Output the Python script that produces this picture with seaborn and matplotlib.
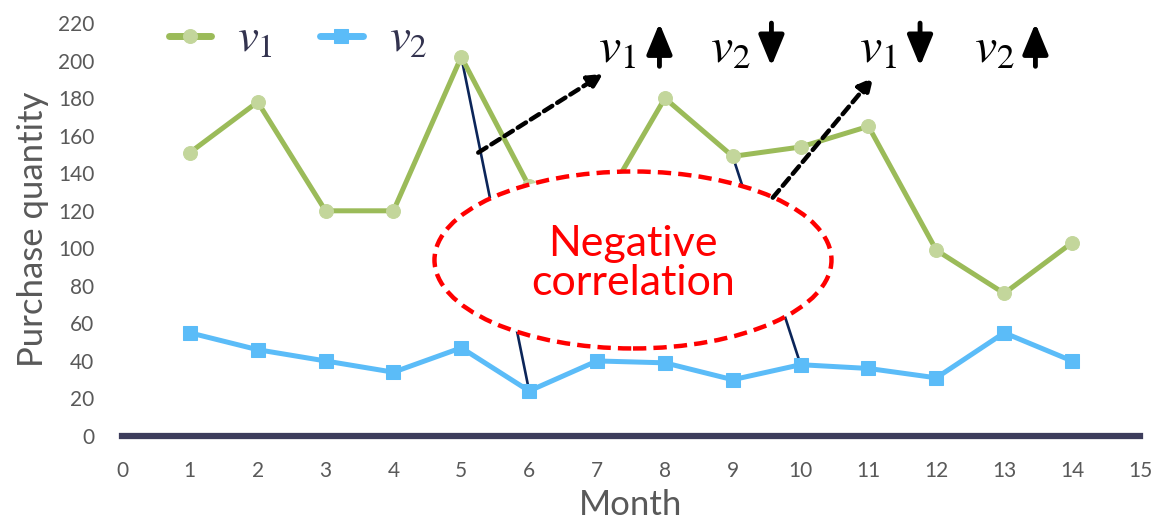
import matplotlib
matplotlib.use("Agg")
import matplotlib.pyplot as plt
from matplotlib.patches import Ellipse
import numpy as np
import pandas as pd
import seaborn as sns

# values
months = [1, 2, 3, 4, 5, 6, 7, 8, 9, 10, 11, 12, 13, 14]
v1 = [151, 178, 120, 120, 202, 133, 118, 180, 149, 154, 165, 99, 76, 103]
v2 = [55, 46, 40, 34, 47, 24, 40, 39, 30, 38, 36, 31, 55, 40]
x_ticks = list(range(0, 16))
y_ticks = list(range(0, 221, 20))

green = "#9BBB59"
green_light = "#C3D69B"
blue = "#5BBCF8"
navy = "#0B2559"
axis_col = "#3D3D5C"
grey = "#595959"

sns.set_theme(style="white")
plt.rcParams["font.family"] = ["Lato", "DejaVu Sans"]
plt.rcParams["mathtext.fontset"] = "stix"

df = pd.DataFrame({"Month": months, "v1": v1, "v2": v2})

fig = plt.figure(figsize=(11.56, 5.28), dpi=100)
ax = fig.add_axes([0.1055, 0.1742, 0.8806, 0.782])

sns.lineplot(data=df, x="Month", y="v1", ax=ax, color=green, lw=3.6,
             marker="o", markersize=10, markerfacecolor=green_light,
             markeredgecolor=green_light, label="$v_1$", zorder=3)
sns.lineplot(data=df, x="Month", y="v2", ax=ax, color=blue, lw=3.6,
             marker="s", markersize=10, markerfacecolor=blue,
             markeredgecolor=blue, label="$v_2$", zorder=3)

# lines linking peaks to troughs (v1 at 5 -> v2 at 6, v1 at 9 -> v2 at 10)
for a, b in [(4, 5), (8, 9)]:
    ax.plot([months[a], months[b]], [v1[a], v2[b]], color=navy, lw=1.9, zorder=2)

# ellipse with label
ell = Ellipse((7.53, 93.8), 5.85, 94.3, facecolor="white", edgecolor="#FF0000",
              lw=3.2, ls=(0, (3, 1.6)), zorder=5)
ax.add_patch(ell)
ax.text(7.53, 92, "Negative\ncorrelation", color="#FF0000", fontsize=31,
        ha="center", va="center", linespacing=1.05, zorder=6)

# dashed arrows
for (x0, y0), (x1, y1) in [((5.25, 151), (7.09, 193)), ((9.59, 127), (11.07, 191))]:
    ax.annotate("", xy=(x1, y1), xytext=(x0, y0), zorder=7,
                arrowprops=dict(arrowstyle="-|>", color="black", lw=3.2,
                                ls=(0, (2.2, 1.3)), mutation_scale=22,
                                shrinkA=0, shrinkB=0))

# v1 / v2 trend labels with thick vertical arrows
labels = [("$v_1$", 7.02, 1), ("$v_2$", 8.67, -1),
          ("$v_1$", 10.86, -1), ("$v_2$", 12.56, 1)]
for txt, xp, d in labels:
    ax.text(xp, 199, txt, fontsize=36, color="black", ha="left",
            va="baseline", zorder=7)
    xa = xp + 0.9
    lo, hi = 197, 220
    start, end = (lo, hi) if d > 0 else (hi, lo)
    ax.annotate("", xy=(xa, end), xytext=(xa, start), zorder=7,
                arrowprops=dict(arrowstyle="-|>,head_width=0.35,head_length=0.85",
                                color="black", lw=3.5, mutation_scale=22,
                                shrinkA=0, shrinkB=0))

ax.set_xlim(0, 15)
ax.set_ylim(0, 220)
ax.set_xticks(x_ticks)
ax.set_yticks(y_ticks)
ax.tick_params(axis="both", length=0, labelsize=15, colors=grey)
ax.tick_params(axis="x", pad=18)
ax.tick_params(axis="y", pad=20)
ax.set_xlabel("Month", fontsize=25, color=grey, labelpad=6)
ax.set_ylabel("Purchase quantity", fontsize=25, color=grey, labelpad=6)

for s in ["top", "right", "left"]:
    ax.spines[s].set_visible(False)
ax.spines["bottom"].set_color(axis_col)
ax.spines["bottom"].set_linewidth(4.5)
ax.spines["bottom"].set_zorder(4)

leg = ax.legend(loc="upper left", bbox_to_anchor=(0.004, 1.115), ncol=2,
                frameon=False, fontsize=34, handlelength=0.9,
                columnspacing=1.0, handletextpad=0.55)
for t in leg.get_texts():
    t.set_color("#33334F")
for h in leg.get_lines():
    h.set_linewidth(5)

fig.savefig("out.png", dpi=100)
